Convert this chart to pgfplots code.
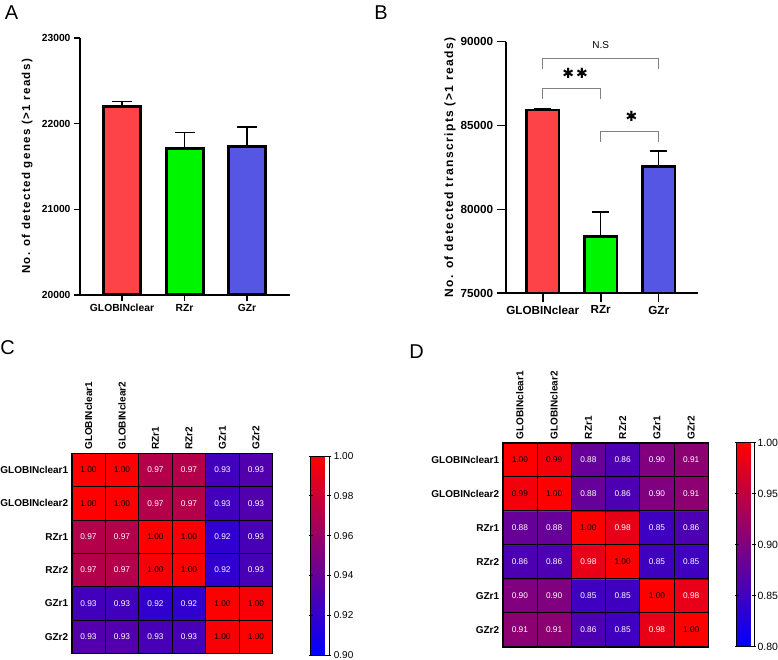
\documentclass[border=0pt]{standalone}
\usepackage{fontspec}
\setmainfont{Liberation Sans}
\newfontfamily\symfont{DejaVu Sans}
\usepackage{pgfplots}
\pgfplotsset{compat=1.18}

\definecolor{barred}{RGB}{253,67,72}
\definecolor{bargreen}{RGB}{0,245,0}
\definecolor{barblue}{RGB}{86,86,229}

% cell label: black on the near-1 cells, white elsewhere
\def\lblA{1.00}\def\lblB{0.99}
\newcommand\celllabel[1]{\edef\tmplbl{#1}%
  \ifx\tmplbl\lblA\color{black}\else\ifx\tmplbl\lblB\color{black}\else\color{white}\fi\fi\tmplbl}

\pgfplotsset{
  gpbars/.style={
    scale only axis, axis lines=left, axis line style={line width=1.6pt,-},
    axis on top, clip=true, tick align=outside,
    tick style={black,line width=1.6pt},
    xtick={0,1,2}, xticklabels={GLOBINclear,RZr,GZr},
    /pgf/number format/assume math mode=true, scaled y ticks=false,
  },
  gpbar/.style={ybar, bar shift=0pt, draw=black, fill=#1,
    error bars/y dir=plus, error bars/y explicit,
    error bars/error bar style={line width=1.3pt,black},
    error bars/error mark options={rotate=90, line width=1.3pt, black, mark size=10pt}},
  heat/.style={
    scale only axis, enlargelimits=false,
    xmin=-0.5, xmax=5.5, ymin=-0.5, ymax=5.5,
    xtick={0,...,5}, ytick={0,...,5},
    xticklabels={GLOBINclear1,GLOBINclear2,RZr1,RZr2,GZr1,GZr2},
    yticklabels={GZr2,GZr1,RZr2,RZr1,GLOBINclear2,GLOBINclear1},
    xticklabel pos=upper,
    xticklabel style={rotate=90, anchor=west, font=\fontsize{10}{12}\selectfont\bfseries},
    yticklabel style={font=\fontsize{10}{12}\selectfont\bfseries},
    major tick length=0pt, minor tick length=0pt,
    minor xtick={0.5,1.5,2.5,3.5,4.5}, minor ytick={0.5,1.5,2.5,3.5,4.5},
    xminorgrids, yminorgrids, minor grid style={black, line width=0.7pt},
    axis on top, axis line style={line width=1.6pt},
    colormap={rb}{rgb255=(0,0,255) rgb255=(255,0,0)},
    colorbar,
  },
  celltext/.style={only marks, mark=none, point meta=explicit symbolic,
    nodes near coords={\celllabel{\pgfplotspointmeta}},
    nodes near coords align=center,
    every node near coord/.append style={font=\fontsize{8.3}{10}\selectfont, inner sep=0pt}},
}

\pgfplotstableread{
x y c lab
0 0 0.932 0.93
1 0 0.932 0.93
2 0 0.928 0.93
3 0 0.928 0.93
4 0 0.997 1.00
5 0 1.000 1.00
0 1 0.926 0.93
1 1 0.926 0.93
2 1 0.919 0.92
3 1 0.919 0.92
4 1 1.000 1.00
5 1 0.997 1.00
0 2 0.970 0.97
1 2 0.970 0.97
2 2 0.997 1.00
3 2 1.000 1.00
4 2 0.919 0.92
5 2 0.928 0.93
0 3 0.970 0.97
1 3 0.970 0.97
2 3 1.000 1.00
3 3 0.997 1.00
4 3 0.919 0.92
5 3 0.928 0.93
0 4 0.999 1.00
1 4 1.000 1.00
2 4 0.970 0.97
3 4 0.970 0.97
4 4 0.926 0.93
5 4 0.932 0.93
0 5 1.000 1.00
1 5 0.999 1.00
2 5 0.970 0.97
3 5 0.970 0.97
4 5 0.926 0.93
5 5 0.932 0.93
}\heatC

\pgfplotstableread{
x y c lab
0 0 0.91 0.91
1 0 0.91 0.91
2 0 0.86 0.86
3 0 0.85 0.85
4 0 0.98 0.98
5 0 1.00 1.00
0 1 0.90 0.90
1 1 0.90 0.90
2 1 0.85 0.85
3 1 0.85 0.85
4 1 1.00 1.00
5 1 0.98 0.98
0 2 0.86 0.86
1 2 0.86 0.86
2 2 0.98 0.98
3 2 1.00 1.00
4 2 0.85 0.85
5 2 0.85 0.85
0 3 0.88 0.88
1 3 0.88 0.88
2 3 1.00 1.00
3 3 0.98 0.98
4 3 0.85 0.85
5 3 0.86 0.86
0 4 0.99 0.99
1 4 1.00 1.00
2 4 0.88 0.88
3 4 0.86 0.86
4 4 0.90 0.90
5 4 0.91 0.91
0 5 1.00 1.00
1 5 0.99 0.99
2 5 0.88 0.88
3 5 0.86 0.86
4 5 0.90 0.90
5 5 0.91 0.91
}\heatD

\begin{document}
\begin{tikzpicture}
\path[use as bounding box] (0pt,0pt) rectangle (778pt,659pt);

% A: detected genes
\begin{axis}[gpbars, at={(80pt,364pt)}, anchor=south west,
  width=210pt, height=257pt,
  xmin=-0.672, xmax=2.688, ymin=20000, ymax=23000,
  ytick={20000,21000,22000,23000}, yticklabels={20000,21000,22000,23000},
  major tick length=6pt,
  ticklabel style={font=\fontsize{10.3}{12}\selectfont\bfseries},
  ylabel={No. of detected genes (>1 reads)},
  ylabel style={at={(axis description cs:-0.252,0.5)}, anchor=center,
    font=\fontsize{11.5}{13}\selectfont\bfseries\addfontfeatures{LetterSpace=12}},
]
\addplot[gpbar=barred, bar width=37pt, line width=3pt] coordinates {(0,22200) +- (0,60)};
\addplot[gpbar=bargreen, bar width=37pt, line width=3pt] coordinates {(1,21707) +- (0,188)};
\addplot[gpbar=barblue, bar width=37pt, line width=3pt] coordinates {(2,21733) +- (0,228)};
\end{axis}

% B: detected transcripts
\begin{axis}[gpbars, at={(505.7pt,365.7pt)}, anchor=south west,
  width=192.3pt, height=251.6pt,
  xmin=-0.638, xmax=2.678, ymin=75000, ymax=90000,
  ytick={75000,80000,85000,90000}, yticklabels={75000,80000,85000,90000},
  major tick length=9pt,
  ticklabel style={font=\fontsize{11.7}{14}\selectfont\bfseries},
  ylabel={No. of detected transcripts (>1 reads)},
  ylabel style={at={(axis description cs:-0.29,0.5)}, anchor=center,
    font=\fontsize{12}{14}\selectfont\bfseries\addfontfeatures{LetterSpace=12}},
]
\addplot[gpbar=barred, bar width=32.6pt, line width=2.7pt,
  error bars/error mark options={rotate=90, line width=1.3pt, black, mark size=8.5pt}] coordinates {(0,85920) +- (0,100)};
\addplot[gpbar=bargreen, bar width=32.6pt, line width=2.7pt,
  error bars/error mark options={rotate=90, line width=1.3pt, black, mark size=8.5pt}] coordinates {(1,78398) +- (0,1450)};
\addplot[gpbar=barblue, bar width=32.6pt, line width=2.7pt,
  error bars/error mark options={rotate=90, line width=1.3pt, black, mark size=8.5pt}] coordinates {(2,82572) +- (0,910)};
\draw[gray, line width=0.8pt] (axis cs:0,88355) -- (axis cs:0,89010) -- (axis cs:2,89010) -- (axis cs:2,88355);
\draw[gray, line width=0.8pt] (axis cs:0,86584) -- (axis cs:0,87222) -- (axis cs:1,87222) -- (axis cs:1,86584);
\draw[gray, line width=0.8pt] (axis cs:1,84038) -- (axis cs:1,84635) -- (axis cs:2,84635) -- (axis cs:2,84038);
\node[font=\fontsize{10}{12}\selectfont] at (axis cs:1,89804) {N.S};
\node[font=\fontsize{14}{16}\selectfont\symfont] at (axis cs:0.557,88116) {✱\hspace{2pt}✱};
\node[font=\fontsize{14}{16}\selectfont\symfont] at (axis cs:1.53,85570) {✱};
\end{axis}

% C: correlation heatmap
\begin{axis}[heat, at={(71.7pt,5.7pt)}, anchor=south west,
  width=201pt, height=200pt,
  point meta min=0.9, point meta max=1,
  colorbar style={at={(parent axis.north east)}, anchor=north west,
    xshift=29.5pt, yshift=-2.7pt, width=18.6pt, height=199pt,
    y dir=normal, xtick=\empty,
    ytick={0.9,0.92,0.94,0.96,0.98,1}, yticklabels={0.90,0.92,0.94,0.96,0.98,1.00},
    minor ytick={}, minor xtick={}, xminorgrids=false, yminorgrids=false,
    yticklabel pos=right, ytick pos=both, tick align=center, major tick length=4pt,
    tick style={black, line width=0.9pt}, axis line style={line width=1pt},
    yticklabel style={font=\fontsize{10}{12}\selectfont, xshift=-1pt}},
]
\addplot[matrix plot*, mesh/cols=6, point meta=explicit] table[x=x, y=y, meta=c] {\heatC};
\addplot[celltext] table[x=x, y=y, meta=lab] {\heatC};
\end{axis}

% D: correlation heatmap
\begin{axis}[heat, at={(502.7pt,12.3pt)}, anchor=south west,
  width=205.6pt, height=204pt,
  point meta min=0.8, point meta max=1,
  colorbar style={at={(parent axis.north east)}, anchor=north west,
    xshift=19.9pt, width=17.3pt, height=204pt,
    y dir=normal, xtick=\empty,
    ytick={0.8,0.85,0.9,0.95,1}, yticklabels={0.80,0.85,0.90,0.95,1.00},
    minor ytick={}, minor xtick={}, xminorgrids=false, yminorgrids=false,
    yticklabel pos=right, ytick pos=both, tick align=center, major tick length=4pt,
    tick style={black, line width=0.9pt}, axis line style={line width=1pt},
    yticklabel style={font=\fontsize{10.5}{12}\selectfont, xshift=-2pt}},
]
\addplot[matrix plot*, mesh/cols=6, point meta=explicit] table[x=x, y=y, meta=c] {\heatD};
\addplot[celltext] table[x=x, y=y, meta=lab] {\heatD};
\end{axis}

\node[font=\fontsize{20}{24}\selectfont] at (11.5pt,646.5pt) {A};
\node[font=\fontsize{20}{24}\selectfont] at (381pt,646.5pt) {B};
\node[font=\fontsize{20}{24}\selectfont] at (7.5pt,311.5pt) {C};
\node[font=\fontsize{20}{24}\selectfont] at (416.5pt,307.5pt) {D};
\end{tikzpicture}
\end{document}
